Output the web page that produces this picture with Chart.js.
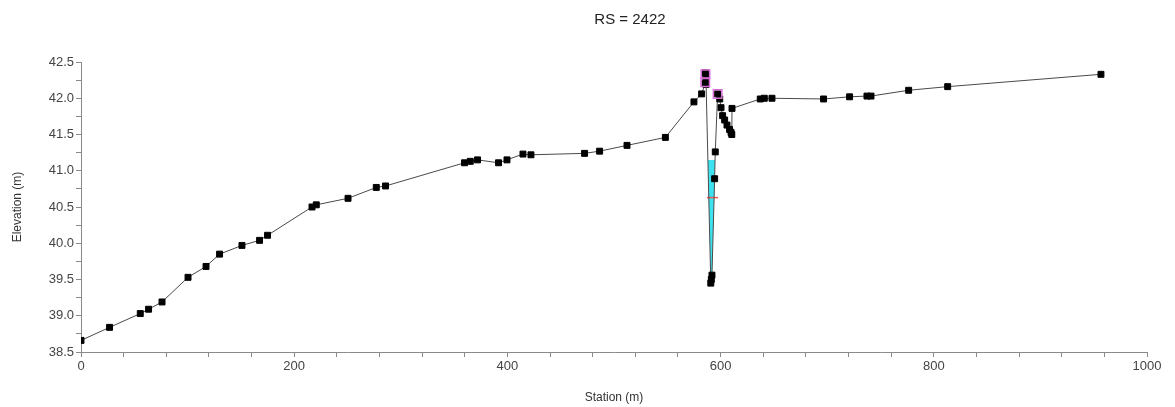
<!DOCTYPE html>
<html>
<head>
<meta charset="utf-8">
<script src="https://cdn.jsdelivr.net/npm/chart.js@4.4.1/dist/chart.umd.min.js"></script>
<style>
  body { margin: 0; background: #fff; }
  #wrap { width: 1175px; height: 407px; }
</style>
</head>
<body>
<div id="wrap"><canvas id="xsChart" width="1175" height="407"></canvas></div>
<script>
//Cross section ground points (station m, elevation m)
var stations = [0, 26.8, 55.6, 63.4, 76, 100.4, 117.3, 130, 151, 167.5, 175, 216.7, 220.7, 250.5, 277, 285.7,
	359.8, 365.2, 372, 391.7, 399.6, 414.6, 422.1, 472.4, 486.5, 512.2, 548.2, 575, 582.2,
	585.4, 585.8, 586.2, 586.4, 590.8, 591.3, 591.9, 594.4, 595.0, 597.2, 599.2, 600.4, 601.9,
	603.8, 606.0, 608.4, 609.8, 610.5, 610.7, 637.2, 641, 648.2, 696.6, 721, 737.3, 741.1,
	776.4, 813, 956.8];
var elevations = [38.66, 38.84, 39.03, 39.09, 39.19, 39.53, 39.68, 39.85, 39.97, 40.04, 40.11, 40.50, 40.53, 40.62, 40.77, 40.79,
	41.11, 41.13, 41.15, 41.11, 41.15, 41.23, 41.22, 41.24, 41.27, 41.35, 41.46, 41.95, 42.06,
	42.20, 42.35, 42.27, 42.19, 39.45, 39.50, 39.56, 40.89, 41.26, 42.06, 41.99, 41.87, 41.76,
	41.70, 41.63, 41.57, 41.53, 41.50, 41.86, 41.99, 42.00, 42.00, 41.99, 42.02, 42.03, 42.03,
	42.11, 42.16, 42.33];

//Bank stations (pink markers)
var bankStations = [585.6, 585.8, 597.2];
var bankElevations = [42.22, 42.33, 42.06];

//Water surface and channel bottom under it
var waterSurface = 41.15;
var wetStations = [588.07, 590.8, 591.3, 591.9, 594.4, 594.82];
var wetElevations = [41.15, 39.45, 39.50, 39.56, 40.89, 41.15];

//Critical depth line
var critStations = [587.2, 597.6];
var critElevations = [40.63, 40.63];

var title = "RS = 2422";

function toPoints(xs, ys) {
	return xs.map(function (x, i) { return { x: x, y: ys[i] }; });
}

//Draws the RS title above the plot
var titlePlugin = {
	id: 'rsTitle',
	afterDraw: function (chart) {
		var ctx = chart.ctx;
		ctx.save();
		ctx.fillStyle = '#222';
		ctx.font = '15px "Liberation Sans", Arial, sans-serif';
		ctx.textAlign = 'center';
		ctx.textBaseline = 'middle';
		ctx.fillText(title, 630, 20);
		ctx.restore();
	}
};

var axisColor = '#8a8a8a';
var fontFam = '"Liberation Sans", Arial, sans-serif';

var ctx = document.getElementById('xsChart').getContext('2d');
var myChart = new Chart(ctx, {
	type: 'scatter',
	data: {
		datasets: [{
				label: 'Bank Sta',
				data: toPoints(bankStations, bankElevations),
				showLine: false,
				pointStyle: 'rect',
				pointRadius: 6,
				pointBackgroundColor: 'rgba(0,0,0,0)',
				pointBorderColor: '#d86cd8',
				pointBorderWidth: 1.5,
				order: 0
			},
			{
				label: 'Ground',
				data: toPoints(stations, elevations),
				showLine: true,
				borderColor: '#4a4a4a',
				borderWidth: 1,
				pointStyle: 'rect',
				pointRadius: 4.2,
				pointBackgroundColor: '#000',
				pointBorderColor: '#000',
				pointBorderWidth: 1,
				order: 1
			},
			{
				label: 'Crit',
				data: toPoints(critStations, critElevations),
				showLine: true,
				borderColor: '#f25555',
				borderWidth: 1.5,
				pointRadius: 0,
				order: 2
			},
			{
				label: 'WS',
				data: toPoints(wetStations, wetElevations),
				showLine: true,
				borderWidth: 0,
				borderColor: 'rgba(0,0,0,0)',
				backgroundColor: '#3ce2f0',
				fill: { value: waterSurface },
				pointRadius: 0,
				order: 3
			}]
	},
	plugins: [titlePlugin],
	options: {
		responsive: false,
		animation: false,
		devicePixelRatio: 1,
		layout: { padding: { top: 62, right: 28, left: 0, bottom: 0 } },
		plugins: {
			legend: { display: false },
			tooltip: { enabled: false }
		},
		scales: {
			x: {
				type: 'linear',
				min: 0,
				max: 1000,
				afterFit: function (scale) { scale.height = 55; },
				border: { display: true, color: axisColor, width: 1 },
				grid: { drawOnChartArea: false, drawTicks: true, tickLength: 5, color: axisColor },
				ticks: {
					stepSize: 40,
					autoSkip: false,
					maxRotation: 0,
					padding: 2,
					color: '#444',
					font: { family: fontFam, size: 13 },
					callback: function (v) { return (v % 200 === 0) ? String(v) : ''; }
				},
				title: {
					display: true,
					text: 'Station (m)',
					color: '#333',
					font: { family: fontFam, size: 12 },
					padding: { top: 4, bottom: 2 }
				}
			},
			y: {
				type: 'linear',
				min: 38.5,
				max: 42.5,
				afterFit: function (scale) { scale.width = 81; },
				border: { display: true, color: axisColor, width: 1 },
				grid: { drawOnChartArea: false, drawTicks: true, tickLength: 5, color: axisColor },
				ticks: {
					stepSize: 0.25,
					autoSkip: false,
					padding: 2,
					color: '#444',
					font: { family: fontFam, size: 13 },
					callback: function (v) {
						return (Math.abs(v * 2 - Math.round(v * 2)) < 1e-6) ? v.toFixed(1) : '';
					}
				},
				title: {
					display: true,
					text: 'Elevation (m)',
					color: '#333',
					font: { family: fontFam, size: 12 },
					padding: { top: 10, bottom: 0 }
				}
			}
		}
	}
});
</script>
</body>
</html>
